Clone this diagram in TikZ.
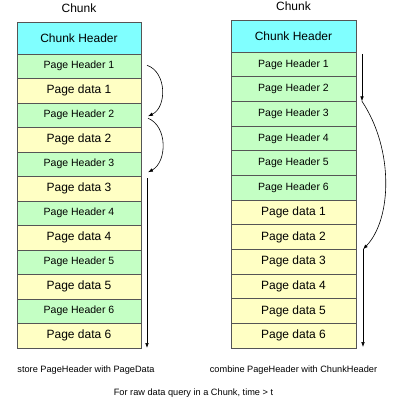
\documentclass[tikz,border=0pt]{standalone}
\usepackage{fontspec}
\setmainfont{Liberation Sans}
\usetikzlibrary{arrows.meta,positioning}
\definecolor{ColorHead}{HTML}{80FFFF}
\definecolor{ColorPH}{HTML}{C4FFC4}
\definecolor{ColorPD}{HTML}{FFFFC4}
\definecolor{ColorLine}{HTML}{555555}
\tikzset{
  cell/.style={draw=ColorLine, line width=0.8pt, inner sep=0pt, outer sep=0pt, font=\fontsize{12}{14}\selectfont},
  headcell/.style={cell, fill=ColorHead, minimum height=32pt},
  phcell/.style={cell, fill=ColorPH, font=\fontsize{10.5}{12}\selectfont},
  pdcell/.style={cell, fill=ColorPD},
  capt/.style={font=\fontsize{9.2}{11}\selectfont, inner sep=0pt},
  flow/.style={line width=0.6pt, >={Latex[length=5pt,width=3.6pt]}}
}

\begin{document}
\begin{tikzpicture}[x=1pt,y=-1pt]
    \useasboundingbox[fill=white] (0,0) rectangle (408,408);
    %Left chunk
    \node[font=\fontsize{12}{14}\selectfont] (ltitle) at (79,8) {Chunk};
    \node[headcell, minimum width=124pt] (lch) at (79,38) {Chunk Header};
    \foreach \i in {1,...,6} {
        \node[phcell, minimum width=124pt, minimum height=24.5pt] (lph\i) at (79,{54+24.5*(2*\i-2)+12.25}) {Page Header \i};
        \node[pdcell, minimum width=124pt, minimum height=24.5pt] (lpd\i) at (79,{54+24.5*(2*\i-1)+12.25}) {Page data \i};
    }
    %Right chunk
    \node[font=\fontsize{12}{14}\selectfont] (rtitle) at (293.5,6) {Chunk};
    \node[headcell, minimum width=125pt] (rch) at (293.5,36) {Chunk Header};
    \foreach \i in {1,...,6} {
        \node[phcell, minimum width=125pt, minimum height=24.67pt] (rph\i) at (293.5,{52+24.67*(\i-1)+12.33}) {Page Header \i};
        \node[pdcell, minimum width=125pt, minimum height=24.67pt] (rpd\i) at (293.5,{52+24.67*(\i+5)+12.33}) {Page data \i};
    }
    %Arrows left
    \draw[flow,->] ([xshift=6pt,yshift=1pt]lph1.east) .. controls +(20,7) and +(19,-9) .. ([xshift=7pt,yshift=-1pt]lph2.east);
    \draw[flow,->] ([xshift=7pt,yshift=-3pt]lph2.east) .. controls +(20,8) and +(19,-10) .. ([xshift=7pt,yshift=-8pt]lph3.east);
    \draw[flow,->] ([xshift=6pt,yshift=-1.5pt]lpd3.north east) -- ([xshift=6pt]lpd6.south east);
    %Arrows right
    \draw[flow,->] ([xshift=6pt,yshift=-2pt]rph1.north east) -- ([xshift=6pt]rph2.south east);
    \draw[flow,->] ([xshift=6pt]rph2.south east) .. controls +(32,48) and +(29,-30) .. ([xshift=7pt]rpd2.south east);
    \draw[flow,->] ([xshift=7pt]rpd3.north east) -- ([xshift=7pt,yshift=1pt]rpd6.south east);
    %Captions
    \node[capt] (lcap) at (86,370) {store PageHeader with PageData};
    \node[capt] (rcap) at (293.5,370) {combine PageHeader with ChunkHeader};
    \node[capt] (qcap) at (193.5,393) {For raw data query in a Chunk, time > t};
\end{tikzpicture}
\end{document}
